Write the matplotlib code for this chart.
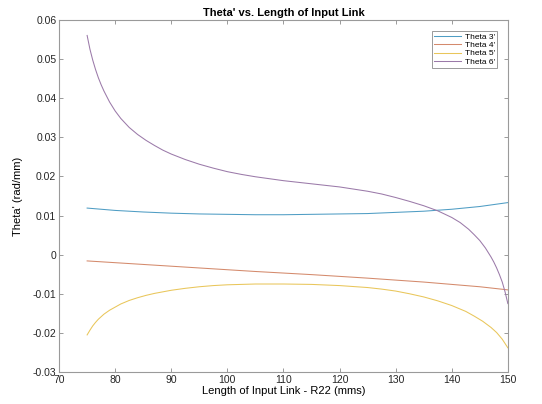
import matplotlib

matplotlib.use("Agg")

import matplotlib.pyplot as plt

plt.rcParams["font.family"] = ["Liberation Sans", "DejaVu Sans"]

# values (x in mm, theta' in rad/mm)
x_theta3 = [75, 80, 85, 90, 95, 100, 105, 110, 115, 120, 125, 130, 135, 140, 145, 150]
theta3 = [0.0119, 0.0113, 0.0109, 0.0106, 0.0104, 0.0103, 0.0102, 0.0102,
          0.0103, 0.0104, 0.0105, 0.0108, 0.0111, 0.0116, 0.0123, 0.0133]

x_theta4 = [75, 85, 95, 105, 115, 125, 135, 145, 150]
theta4 = [-0.0016, -0.0025, -0.0034, -0.0043, -0.0051, -0.0060, -0.0070, -0.0082, -0.0090]

x_theta5 = [75, 75.5, 76, 76.5, 77, 78, 79, 80, 81, 82.5, 84, 85.5, 87, 88.5, 90,
            92.5, 95, 97.5, 100, 105, 110, 115, 120, 125, 127.5, 130, 132.5, 135,
            137.5, 140, 142.5, 144, 145.5, 147, 148, 149, 150]
theta5 = [-0.0205, -0.0193, -0.0182, -0.0173, -0.0165, -0.0152, -0.0142, -0.0134,
          -0.0126, -0.0117, -0.0110, -0.0104, -0.0099, -0.0095, -0.0091, -0.0086,
          -0.0082, -0.0079, -0.0077, -0.0075, -0.0075, -0.0076, -0.0079, -0.0084,
          -0.0088, -0.0093, -0.0100, -0.0108, -0.0118, -0.0130, -0.0145, -0.0157,
          -0.0170, -0.0186, -0.0199, -0.0216, -0.0238]

x_theta6 = [75, 75.5, 76, 76.5, 77, 77.5, 78, 79, 80, 81, 82.5, 84, 85.5, 87, 88.5,
            90, 92.5, 95, 97.5, 100, 102.5, 105, 107.5, 110, 115, 120, 125, 127.5,
            130, 132.5, 135, 137.5, 140, 141.5, 143, 144, 145, 146, 147, 147.5, 148,
            148.5, 149, 149.5, 150]
theta6 = [0.0560, 0.0525, 0.0497, 0.0473, 0.0452, 0.0434, 0.0418, 0.0390, 0.0367,
          0.0348, 0.0325, 0.0307, 0.0292, 0.0279, 0.0267, 0.0257, 0.0243, 0.0231,
          0.0221, 0.0212, 0.0205, 0.0199, 0.0194, 0.0189, 0.0181, 0.0173, 0.0162,
          0.0155, 0.0146, 0.0136, 0.0125, 0.0112, 0.0095, 0.0082, 0.0065, 0.0051,
          0.0036, 0.0017, -0.0006, -0.0019, -0.0034, -0.0051, -0.0070, -0.0095,
          -0.0125]

series_labels = ["Theta 3'", "Theta 4'", "Theta 5'", "Theta 6'"]
series_colors = ["#4f9dc4", "#d48a6c", "#e9c65a", "#9b7aa9"]

x_ticks = [70, 80, 90, 100, 110, 120, 130, 140, 150]
y_ticks = [-0.03, -0.02, -0.01, 0, 0.01, 0.02, 0.03, 0.04, 0.05, 0.06]
y_tick_labels = ["-0.03", "-0.02", "-0.01", "0", "0.01", "0.02", "0.03", "0.04", "0.05", "0.06"]

fig = plt.figure(figsize=(5.42, 4.04), dpi=100)
ax = fig.add_axes([0.109, 0.079, 0.828, 0.872])

series = [(x_theta3, theta3), (x_theta4, theta4), (x_theta5, theta5), (x_theta6, theta6)]
for (xs, ys), label, color in zip(series, series_labels, series_colors):
    ax.plot(xs, ys, color=color, linewidth=0.75, label=label)

ax.set_xlim(70, 150)
ax.set_ylim(-0.03, 0.06)
ax.set_xticks(x_ticks)
ax.set_yticks(y_ticks)
ax.set_yticklabels(y_tick_labels)
ax.tick_params(direction="in", top=True, right=True, length=3, width=0.6,
               colors="#8a8a8a", labelcolor="#262626", labelsize=7.5, pad=2)
for spine in ax.spines.values():
    spine.set_color("#9a9a9a")
    spine.set_linewidth(0.8)

ax.set_title("Theta' vs. Length of Input Link", fontsize=8, fontweight="bold", pad=3)
ax.set_xlabel("Length of Input Link - R22 (mms)", fontsize=8, labelpad=1)
ax.set_ylabel("Theta' (rad/mm)", fontsize=8, labelpad=7)

leg = ax.legend(loc="upper right", fontsize=6, handlelength=3.3, handletextpad=0.4,
                borderpad=0.25, labelspacing=0.05, fancybox=False, framealpha=1,
                bbox_to_anchor=(0.985, 0.98))
leg.get_frame().set_edgecolor("#8a8a8a")
leg.get_frame().set_linewidth(0.6)

fig.savefig("out.png", dpi=100)
